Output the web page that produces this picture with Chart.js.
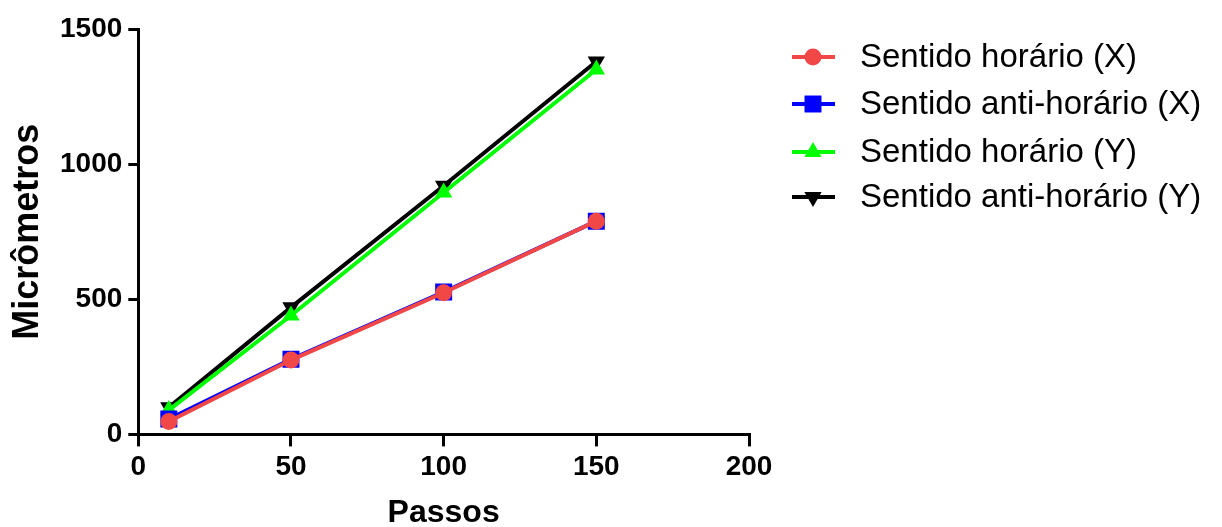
<!DOCTYPE html>
<html>
<head>
<meta charset="utf-8">
<script src="https://cdn.jsdelivr.net/npm/chart.js@4"></script>
<style>
  body { margin: 0; background: #fff; }
  #wrap { width: 1222px; height: 527px; position: relative; }
</style>
</head>
<body>
<div id="wrap"><canvas id="grafico"></canvas></div>
<script>
const passos = [10, 50, 100, 150];
const horarioX = [48, 275, 524, 789];
const antiHorarioX = [57, 278, 527, 789];
const horarioY = [90, 440, 895, 1350];
const antiHorarioY = [100, 470, 920, 1380];
const xTicks = [0, 50, 100, 150, 200];
const yTicks = [0, 500, 1000, 1500];

const FONT = "'Liberation Sans', Arial, sans-serif";

function pontos(valores) {
  return passos.map((p, i) => ({ x: p, y: valores[i] }));
}

function serie(label, valores, cor, estilo, raio, rotacao) {
  return {
    label: label,
    data: pontos(valores),
    borderColor: cor,
    backgroundColor: cor,
    borderWidth: 4,
    pointStyle: estilo,
    pointRadius: raio,
    pointRotation: rotacao,
    pointBorderWidth: 0,
    pointHoverRadius: raio,
  };
}

// legenda desenhada no canvas: linha + marcador + texto
const legendaLateral = {
  id: "legendaLateral",
  afterDraw(chart) {
    const ctx = chart.ctx;
    const linhas = [57, 104, 152, 197];
    chart.data.datasets.forEach((ds, i) => {
      const y = linhas[i];
      ctx.save();
      ctx.strokeStyle = ds.borderColor;
      ctx.lineWidth = 4;
      ctx.beginPath();
      ctx.moveTo(792, y);
      ctx.lineTo(835, y);
      ctx.stroke();
      ctx.fillStyle = ds.backgroundColor;
      Chart.helpers.drawPoint(ctx, {
        pointStyle: ds.pointStyle,
        rotation: ds.pointRotation,
        radius: ds.pointRadius,
        borderWidth: 0,
      }, 813, y);
      ctx.fillStyle = "#000";
      ctx.font = "33px " + FONT;
      ctx.textBaseline = "middle";
      ctx.fillText(ds.label, 860, y + 1);
      ctx.restore();
    });
  },
};

new Chart(document.getElementById("grafico"), {
  type: "line",
  data: {
    datasets: [
      serie("Sentido horário (X)", horarioX, "#f24747", "circle", 8.5, 0),
      serie("Sentido anti-horário (X)", antiHorarioX, "#0000ff", "rect", 12, 0),
      serie("Sentido horário (Y)", horarioY, "#00ff00", "triangle", 10, 0),
      serie("Sentido anti-horário (Y)", antiHorarioY, "#000000", "triangle", 10, 180),
    ],
  },
  options: {
    responsive: true,
    maintainAspectRatio: false,
    animation: false,
    layout: { padding: { left: 10, top: 29, right: 473, bottom: 0 } },
    plugins: {
      legend: { display: false },
      tooltip: { enabled: false },
    },
    scales: {
      x: {
        type: "linear",
        min: 0,
        max: 200,
        afterBuildTicks: (axis) => {
          axis.ticks = xTicks.map((v) => ({ value: v }));
        },
        border: { color: "#000", width: 3 },
        grid: { drawOnChartArea: false, drawTicks: true, tickLength: 12, color: "#000", lineWidth: 3 },
        ticks: { color: "#000", font: { family: FONT, size: 28, weight: "bold" }, padding: 4, maxRotation: 0, callback: (v) => String(v) },
        title: { display: true, text: "Passos", color: "#000", font: { family: FONT, size: 32, weight: "bold", lineHeight: 1 }, padding: { top: 9, bottom: -2 } },
      },
      y: {
        min: 0,
        max: 1500,
        afterBuildTicks: (axis) => {
          axis.ticks = yTicks.map((v) => ({ value: v }));
        },
        border: { color: "#000", width: 3 },
        grid: { drawOnChartArea: false, drawTicks: true, tickLength: 10, color: "#000", lineWidth: 3 },
        ticks: { color: "#000", font: { family: FONT, size: 28, weight: "bold" }, padding: 6, callback: (v) => String(v) },
        title: { display: true, text: "Micrômetros", color: "#000", font: { family: FONT, size: 36, weight: "bold", lineHeight: 1 }, padding: { top: 0, bottom: 8 } },
      },
    },
  },
  plugins: [legendaLateral],
});
</script>
</body>
</html>
